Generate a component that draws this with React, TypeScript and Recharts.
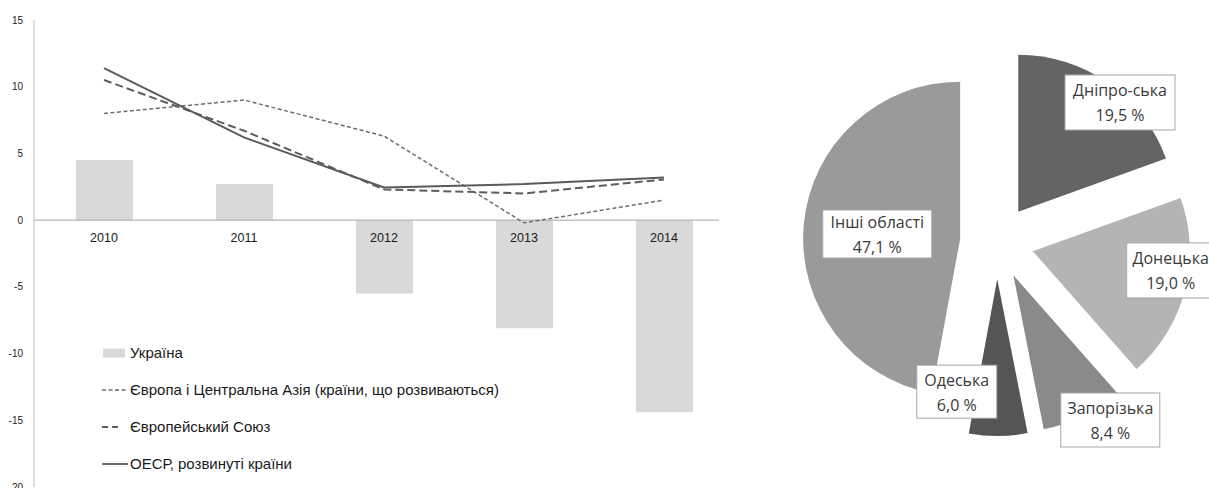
import React from "react";
import {
  ComposedChart,
  Bar,
  Line,
  XAxis,
  YAxis,
  ReferenceLine,
  Legend,
  LabelList,
  PieChart,
  Pie,
  Cell,
  Sector,
} from "recharts";

// --- ліва діаграма: темпи зростання, %
const years = ["2010", "2011", "2012", "2013", "2014"];
const ukraine = [4.5, 2.7, -5.5, -8.1, -14.4];
const europeCentralAsia = [8.0, 9.0, 6.3, -0.2, 1.5];
const europeanUnion = [10.5, 6.7, 2.3, 2.0, 3.05];
const oecd = [11.4, 6.2, 2.45, 2.7, 3.2];
const yTicks = [-20, -15, -10, -5, 0, 5, 10, 15];

const seriesNames = [
  "Україна",
  "Європа і Центральна Азія (країни, що розвиваються)",
  "Європейський Союз",
  "ОЕСР, розвинуті країни",
];

// --- права діаграма: частки регіонів
const regions = ["Дніпро-ська", "Донецька", "Запорізька", "Одеська", "Інші області"];
const shares = [19.5, 19.0, 8.4, 6.0, 47.1];

const SLICE_COLORS = ["#646464", "#b4b4b4", "#8a8a8a", "#555555", "#9a9a9a"];
// розташування підписів відносно центру (радіус, зсув кута) та розмір рамки
const LABEL_PLACE = [
  { r: 186, da: -6.3, w: 110, h: 55 },
  { r: 176, da: 5.1, w: 88, h: 55 },
  { r: 211, da: 6.2, w: 99, h: 54 },
  { r: 155, da: -15.4, w: 80, h: 53 },
  { r: 120, da: 1.4, w: 109, h: 48 },
];
const EXPLODE = 37;
const RAD = Math.PI / 180;

const AXIS_FONT = "'Liberation Sans', Arial, sans-serif";
const NARROW_FONT = "'Liberation Sans Narrow', 'Arial Narrow', 'Liberation Sans', Arial, sans-serif";
const PIE_FONT = "'Open Sans', 'Noto Sans', sans-serif";

const chartData = years.map((year, i) => ({
  year,
  ukraine: ukraine[i],
  eca: europeCentralAsia[i],
  eu: europeanUnion[i],
  oecd: oecd[i],
  axis: 0,
}));

const pieData = regions.map((name, i) => ({ name, value: shares[i] }));

const LegendIcon = ({ idx }: { idx: number }) => {
  if (idx === 0) {
    return (
      <svg width={27} height={12}>
        <rect x={2} y={1.5} width={22} height={9} fill="#d9d9d9" />
      </svg>
    );
  }
  const dash = idx === 1 ? "4 2.5" : idx === 2 ? "6 4" : undefined;
  const color = idx === 1 ? "#6e6e6e" : "#5e5e5e";
  return (
    <svg width={27} height={12}>
      <line
        x1={1}
        x2={idx === 2 ? 18 : 27}
        y1={6}
        y2={6}
        stroke={color}
        strokeWidth={idx === 1 ? 1.3 : 1.8}
        strokeDasharray={dash}
      />
    </svg>
  );
};

const LegendContent = () => (
  <div style={{ fontFamily: AXIS_FONT, fontSize: 15, color: "#1a1a1a" }}>
    {seriesNames.map((name, i) => (
      <div
        key={name}
        style={{ display: "flex", alignItems: "center", height: 37, whiteSpace: "nowrap" }}
      >
        <LegendIcon idx={i} />
        <span style={{ marginLeft: 2 }}>{name}</span>
      </div>
    ))}
  </div>
);

const YearLabel = (props: any) => {
  const { x, y, value } = props;
  return (
    <text
      x={x}
      y={y + 22}
      textAnchor="middle"
      fontFamily={NARROW_FONT}
      fontSize={12.5}
      fill="#1a1a1a"
    >
      {value}
    </text>
  );
};

const ExplodedSector = (props: any) => {
  const { cx, cy, midAngle } = props;
  const dx = EXPLODE * Math.cos(-midAngle * RAD);
  const dy = EXPLODE * Math.sin(-midAngle * RAD);
  return <Sector {...props} cx={cx + dx} cy={cy + dy} stroke="none" />;
};

const PieLabel = (props: any) => {
  const { cx, cy, midAngle, index, name, value } = props;
  const place = LABEL_PLACE[index];
  const a = (midAngle + place.da) * RAD;
  const x = cx + place.r * Math.cos(a);
  const y = cy - place.r * Math.sin(a);
  const pct = `${Number(value).toFixed(1).replace(".", ",")} %`;
  return (
    <g>
      <rect
        x={x - place.w / 2}
        y={y - place.h / 2}
        width={place.w}
        height={place.h}
        fill="#ffffff"
        stroke="#a6a6a6"
        strokeWidth={1}
      />
      <text
        x={x}
        y={y - 12}
        textAnchor="middle"
        dominantBaseline="central"
        fontFamily={PIE_FONT}
        fontSize={16}
        fill="#3a3a3a"
      >
        {name}
      </text>
      <text
        x={x}
        y={y + 13}
        textAnchor="middle"
        dominantBaseline="central"
        fontFamily={PIE_FONT}
        fontSize={16}
        fill="#3a3a3a"
      >
        {pct}
      </text>
    </g>
  );
};

export default function App() {
  return (
    <div
      style={{
        position: "absolute",
        left: 0,
        top: 0,
        width: 1209,
        height: 488,
        background: "#ffffff",
        overflow: "hidden",
      }}
    >
      <div style={{ position: "absolute", left: 0, top: 0 }}>
        <ComposedChart
          width={745}
          height={488}
          data={chartData}
          margin={{ top: 20, right: 26, bottom: 1, left: 0 }}
        >
          <XAxis dataKey="year" hide padding={{ left: 0, right: -15 }} />
          <YAxis
            width={34}
            domain={[-20, 15]}
            ticks={yTicks}
            interval={0}
            axisLine={{ stroke: "#bfbfbf", strokeWidth: 1 }}
            tickLine={false}
            tickMargin={5}
            tick={{ fontSize: 10, fill: "#222222", fontFamily: AXIS_FONT }}
          />
          <Legend
            layout="horizontal"
            verticalAlign="middle"
            align="center"
            content={<LegendContent />}
            wrapperStyle={{ left: 101, top: 334, width: 480, height: 150 }}
          />
          <Bar dataKey="ukraine" fill="#d9d9d9" barSize={57} isAnimationActive={false} />
          <ReferenceLine y={0} stroke="#a6a6a6" strokeWidth={1} />
          <Line
            type="linear"
            dataKey="eca"
            stroke="#6e6e6e"
            strokeWidth={1.5}
            strokeDasharray="4 2.5"
            dot={false}
            isAnimationActive={false}
          />
          <Line
            type="linear"
            dataKey="eu"
            stroke="#5e5e5e"
            strokeWidth={2}
            strokeDasharray="8 4"
            dot={false}
            isAnimationActive={false}
          />
          <Line
            type="linear"
            dataKey="oecd"
            stroke="#5a5a5a"
            strokeWidth={2}
            dot={false}
            isAnimationActive={false}
          />
          <Line
            dataKey="axis"
            stroke="none"
            dot={false}
            legendType="none"
            isAnimationActive={false}
          >
            <LabelList dataKey="year" content={<YearLabel />} />
          </Line>
        </ComposedChart>
      </div>
      <div style={{ position: "absolute", left: 745, top: 0 }}>
        <PieChart width={464} height={488}>
          <Pie
            data={pieData}
            dataKey="value"
            nameKey="name"
            cx={247}
            cy={237}
            outerRadius={157}
            startAngle={90}
            endAngle={-270}
            stroke="none"
            shape={ExplodedSector}
            inactiveShape={ExplodedSector}
            activeShape={ExplodedSector}
            label={PieLabel}
            labelLine={false}
            isAnimationActive={false}
          >
            {pieData.map((d, i) => (
              <Cell key={d.name} fill={SLICE_COLORS[i]} />
            ))}
          </Pie>
        </PieChart>
      </div>
    </div>
  );
}
